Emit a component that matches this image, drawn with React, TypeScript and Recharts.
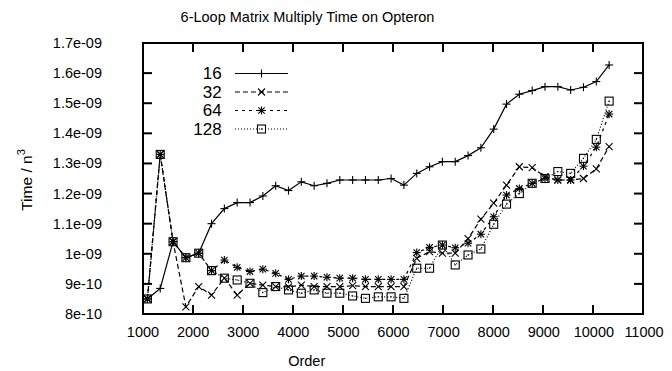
import React from 'react';
import { LineChart, Line, XAxis, YAxis, Legend } from 'recharts';

const FONT = '"Liberation Sans", Arial, Helvetica, sans-serif';

const orders = [
  1088, 1344, 1600, 1856, 2112, 2368, 2624, 2880, 3136, 3392, 3648, 3904, 4160,
  4416, 4672, 4928, 5184, 5440, 5696, 5952, 6208, 6464, 6720, 6976, 7232, 7488,
  7744, 8000, 8256, 8512, 8768, 9024, 9280, 9536, 9792, 10048, 10304,
];

const time16 = [
  8.5e-10, 8.85e-10, 10.4e-10, 9.87e-10, 10.02e-10, 11.0e-10, 11.5e-10, 11.7e-10, 11.7e-10,
  11.92e-10, 12.26e-10, 12.1e-10, 12.39e-10, 12.26e-10, 12.34e-10, 12.45e-10, 12.45e-10,
  12.45e-10, 12.45e-10, 12.5e-10, 12.28e-10, 12.67e-10, 12.89e-10, 13.06e-10, 13.06e-10,
  13.26e-10, 13.52e-10, 14.14e-10, 14.97e-10, 15.3e-10, 15.42e-10, 15.55e-10, 15.55e-10,
  15.44e-10, 15.53e-10, 15.72e-10, 16.27e-10,
];

const time32 = [
  8.5e-10, 13.3e-10, 10.4e-10, 8.24e-10, 8.91e-10, 8.63e-10, 9.19e-10, 8.63e-10, 9.02e-10,
  8.96e-10, 8.91e-10, 8.9e-10, 8.96e-10, 8.91e-10, 8.91e-10, 8.91e-10, 8.94e-10, 8.91e-10,
  8.91e-10, 8.91e-10, 8.91e-10, 9.85e-10, 10.07e-10, 10.02e-10, 10.02e-10, 10.5e-10,
  11.15e-10, 11.68e-10, 12.28e-10, 12.89e-10, 12.86e-10, 12.56e-10, 12.45e-10, 12.45e-10,
  12.5e-10, 12.82e-10, 13.56e-10,
];

const time64 = [
  8.5e-10, 13.3e-10, 10.4e-10, 9.87e-10, 10.02e-10, 9.44e-10, 9.79e-10, 9.55e-10, 9.41e-10,
  9.49e-10, 9.35e-10, 9.15e-10, 9.26e-10, 9.26e-10, 9.22e-10, 9.19e-10, 9.19e-10, 9.15e-10,
  9.15e-10, 9.15e-10, 9.15e-10, 10.04e-10, 10.21e-10, 10.29e-10, 10.2e-10, 10.35e-10,
  10.65e-10, 11.23e-10, 11.95e-10, 12.17e-10, 12.34e-10, 12.5e-10, 12.45e-10, 12.45e-10,
  12.91e-10, 13.54e-10, 14.64e-10,
];

const time128 = [
  8.5e-10, 13.3e-10, 10.4e-10, 9.87e-10, 10.02e-10, 9.44e-10, 9.19e-10, 9.13e-10, 9.02e-10,
  8.71e-10, 8.91e-10, 8.8e-10, 8.69e-10, 8.8e-10, 8.69e-10, 8.69e-10, 8.6e-10, 8.52e-10,
  8.57e-10, 8.57e-10, 8.52e-10, 9.52e-10, 9.52e-10, 10.29e-10, 9.63e-10, 9.96e-10,
  10.16e-10, 10.98e-10, 11.65e-10, 12.0e-10, 12.34e-10, 12.5e-10, 12.73e-10, 12.67e-10,
  13.17e-10, 13.8e-10, 15.07e-10,
];

const xTicks = [1000, 2000, 3000, 4000, 5000, 6000, 7000, 8000, 9000, 10000, 11000];
const yTicks = [8e-10, 9e-10, 1e-9, 1.1e-9, 1.2e-9, 1.3e-9, 1.4e-9, 1.5e-9, 1.6e-9, 1.7e-9];
const yTickLabels = ['8e-10', '9e-10', '1e-09', '1.1e-09', '1.2e-09', '1.3e-09', '1.4e-09', '1.5e-09', '1.6e-09', '1.7e-09'];

const titleText = '6-Loop Matrix Multiply Time on Opteron';
const xLabelText = 'Order';
const yLabelText = 'Time / n';
const yLabelSup = '3';

const Y_MIN = 8e-10;
const Y_MAX = 1.7e-9;

const data = orders.map((o, i) => ({
  order: o,
  s16: time16[i],
  s32: time32[i],
  s64: time64[i],
  s128: time128[i],
}));

const TICK_LEN = 9;
const X_GAP = 18;
const Y_GAP = 41;
const MARGIN = { top: 42, right: 28, bottom: 0, left: 0 };

const PlusMark = (cx: number, cy: number, k?: any) => (
  <g key={k}>
    <line x1={cx - 4} x2={cx + 4} y1={cy} y2={cy} stroke="#000" strokeWidth={1.1} />
    <line x1={cx} x2={cx} y1={cy - 4} y2={cy + 4} stroke="#000" strokeWidth={1.1} />
  </g>
);
const CrossMark = (cx: number, cy: number, k?: any) => (
  <g key={k}>
    <line x1={cx - 3.5} x2={cx + 3.5} y1={cy - 3.5} y2={cy + 3.5} stroke="#000" strokeWidth={1.1} />
    <line x1={cx - 3.5} x2={cx + 3.5} y1={cy + 3.5} y2={cy - 3.5} stroke="#000" strokeWidth={1.1} />
  </g>
);
const StarMark = (cx: number, cy: number, k?: any) => (
  <g key={k}>
    <line x1={cx - 4} x2={cx + 4} y1={cy} y2={cy} stroke="#000" strokeWidth={1.1} />
    <line x1={cx} x2={cx} y1={cy - 4} y2={cy + 4} stroke="#000" strokeWidth={1.1} />
    <line x1={cx - 3.2} x2={cx + 3.2} y1={cy - 3.2} y2={cy + 3.2} stroke="#000" strokeWidth={1.1} />
    <line x1={cx - 3.2} x2={cx + 3.2} y1={cy + 3.2} y2={cy - 3.2} stroke="#000" strokeWidth={1.1} />
  </g>
);
const SquareMark = (cx: number, cy: number, k?: any) => (
  <g key={k}>
    <rect x={cx - 4} y={cy - 4} width={8} height={8} fill="none" stroke="#000" strokeWidth={1.1} />
    <rect x={cx - 0.6} y={cy - 0.6} width={1.2} height={1.2} fill="#000" />
  </g>
);

const SERIES = [
  { key: 's16', name: '16', dash: undefined as any, mark: PlusMark },
  { key: 's32', name: '32', dash: '5 3', mark: CrossMark },
  { key: 's64', name: '64', dash: '3 4', mark: StarMark },
  { key: 's128', name: '128', dash: '1 2', mark: SquareMark },
];

const YTickText = (props: any) => {
  const x = Number(props.x);
  const y = Number(props.y);
  const v = Number(props.payload?.value);
  const idx = yTicks.findIndex((t) => Math.abs(t - v) < 1e-14);
  return (
    <text x={x} y={y} textAnchor="end" dominantBaseline="central" fontFamily={FONT} fontSize={14.5} fill="#000">
      {idx >= 0 ? yTickLabels[idx] : ''}
    </text>
  );
};

const XTickText = (props: any) => {
  const x = Number(props.x);
  const y = Number(props.y);
  return (
    <text x={x} y={y} textAnchor="middle" dominantBaseline="central" fontFamily={FONT} fontSize={14.5} fill="#000">
      {String(props.payload?.value)}
    </text>
  );
};

const LeftTickLine = (props: any) => {
  const x = Number(props.x);
  const y = Number(props.y);
  return <line x1={x} x2={x + TICK_LEN} y1={y} y2={y} stroke="#000" strokeWidth={2} />;
};
const RightTickLine = (props: any) => {
  const x = Number(props.x);
  const y = Number(props.y);
  return <line x1={x - TICK_LEN} x2={x} y1={y} y2={y} stroke="#000" strokeWidth={2} />;
};
const BottomTickLine = (props: any) => {
  const x = Number(props.x);
  const y = Number(props.y);
  return <line x1={x} x2={x} y1={y - TICK_LEN} y2={y} stroke="#000" strokeWidth={2} />;
};
const TopTickLine = (props: any) => {
  const x = Number(props.x);
  const y = Number(props.y);
  return <line x1={x} x2={x} y1={y} y2={y + TICK_LEN} stroke="#000" strokeWidth={2} />;
};

const renderTitle = () => (
  <text x={307.5} y={21.5} textAnchor="middle" fontFamily={FONT} fontSize={14.5} fill="#000">
    {titleText}
  </text>
);

const renderXLabel = () => (
  <text x={306.7} y={366} textAnchor="middle" fontFamily={FONT} fontSize={14.5} fill="#000">
    {xLabelText}
  </text>
);

const renderYLabel = () => (
  <text x={31.5} y={180} transform="rotate(-90 31.5 180)" textAnchor="middle" fontFamily={FONT} fontSize={15.5} fill="#000">
    {yLabelText}
    <tspan dy={-7} fontSize={11}>{yLabelSup}</tspan>
  </text>
);

const renderLegend = () => (
  <svg width={150} height={85} style={{ display: 'block' }}>
    {SERIES.map((s, i) => {
      const y = 13.5 + 18.5 * i;
      return (
        <g key={s.key}>
          <text x={71.7} y={y} textAnchor="end" dominantBaseline="central" fontFamily={FONT} fontSize={17} fill="#000">
            {s.name}
          </text>
          <line x1={85} x2={138} y1={y} y2={y} stroke="#000" strokeWidth={1.2} strokeDasharray={s.dash} />
          {s.mark(111.5, y)}
        </g>
      );
    })}
  </svg>
);

function FrameOverlay() {
  return (
    <div style={{ position: 'absolute', left: 0, top: 0, width: 672, height: 371, pointerEvents: 'none' }}>
      <LineChart width={672} height={371} data={data} margin={MARGIN}>
        <XAxis dataKey="order" type="number" domain={[1000, 11000]} ticks={xTicks} interval={0} allowDataOverflow height={57} tickSize={0} tickMargin={0} tick={<BottomTickLine />} axisLine={{ stroke: '#000', strokeWidth: 2 }} />
        <XAxis xAxisId="top" orientation="top" dataKey="order" type="number" domain={[1000, 11000]} ticks={xTicks} interval={0} allowDataOverflow height={1} tickSize={0} tickMargin={0} tick={<TopTickLine />} axisLine={{ stroke: '#000', strokeWidth: 2 }} />
        <YAxis type="number" domain={[Y_MIN, Y_MAX]} ticks={yTicks} interval={0} allowDataOverflow width={143} tickSize={0} tickMargin={0} tick={<LeftTickLine />} axisLine={{ stroke: '#000', strokeWidth: 2 }} />
        <YAxis yAxisId="right" orientation="right" type="number" domain={[Y_MIN, Y_MAX]} ticks={yTicks} interval={0} allowDataOverflow width={1} tickSize={0} tickMargin={0} tick={<RightTickLine />} axisLine={{ stroke: '#000', strokeWidth: 2 }} />
        <Line dataKey="s16" stroke="#000" strokeOpacity={0} dot={false} activeDot={false} isAnimationActive={false} />
      </LineChart>
    </div>
  );
}

export default function App() {
  return (
    <div style={{ position: 'absolute', left: 0, top: 0, width: 672, height: 371 }}>
      <div style={{ position: 'absolute', left: 0, top: 0, width: 672, height: 371 }}>
        <LineChart width={672} height={371} data={data} margin={MARGIN}>
          <XAxis
            dataKey="order"
            type="number"
            domain={[1000, 11000]}
            ticks={xTicks}
            interval={0}
            allowDataOverflow
            height={57}
            tickSize={0}
            tickMargin={X_GAP}
            tick={<XTickText />}
            axisLine={{ stroke: '#000', strokeWidth: 2 }}
            label={renderXLabel}
          />
          <XAxis
            xAxisId="top"
            orientation="top"
            dataKey="order"
            type="number"
            domain={[1000, 11000]}
            ticks={xTicks}
            allowDataOverflow
            height={1}
            tick={false}
            tickLine={false}
            axisLine={false}
            label={renderTitle}
          />
          <YAxis
            type="number"
            domain={[Y_MIN, Y_MAX]}
            ticks={yTicks}
            interval={0}
            allowDataOverflow
            width={143}
            tickSize={0}
            tickMargin={Y_GAP}
            tick={<YTickText />}
            axisLine={{ stroke: '#000', strokeWidth: 2 }}
            label={renderYLabel}
          />
          <Legend
            layout="vertical"
            align="center"
            verticalAlign="middle"
            content={renderLegend}
            wrapperStyle={{ left: 150, top: 60, width: 150, height: 85 }}
          />
          {SERIES.map((s) => (
            <Line
              key={s.key}
              dataKey={s.key}
              name={s.name}
              type="linear"
              stroke="#000"
              strokeWidth={1.2}
              strokeDasharray={s.dash}
              isAnimationActive={false}
              dot={(p: any) => s.mark(p.cx, p.cy, `${s.key}-${p.index}`)}
              activeDot={false}
            />
          ))}
        </LineChart>
      </div>
      <div
        style={{
          position: 'absolute',
          left: 142,
          top: 42,
          width: 502,
          height: 273,
          boxSizing: 'border-box',
          border: '2px solid #000',
          pointerEvents: 'none',
        }}
      />
      <FrameOverlay />
    </div>
  );
}
